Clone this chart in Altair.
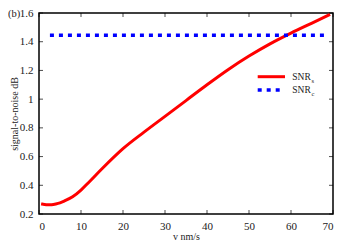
import altair as alt
import pandas as pd

# ---- data ----
v_values = [0.5, 1, 2, 3, 4, 5, 6, 8, 10, 12, 15, 20, 25, 30, 35, 40, 45, 50, 55, 60, 65, 69.3]
snr_s = [0.270, 0.268, 0.264, 0.265, 0.270, 0.278, 0.290, 0.320, 0.367, 0.425, 0.515, 0.655,
         0.770, 0.880, 0.990, 1.100, 1.205, 1.300, 1.385, 1.460, 1.530, 1.590]
snr_c_v = [2.6, 69.0]
snr_c = [1.445, 1.445]
x_ticks = [0, 10, 20, 30, 40, 50, 60, 70]
y_ticks = [0.2, 0.4, 0.6, 0.8, 1.0, 1.2, 1.4, 1.6]
legend_main = ["SNR", "SNR"]
legend_sub = ["s", "c"]
panel_label = "(b)"
x_title = "v nm/s"
y_title = "signal-to-noise dB"

FONT = "Liberation Serif"
W, H = 294, 201

xs = alt.Scale(domain=[0, 70], nice=False, zero=False)
ys = alt.Scale(domain=[0.2, 1.6], nice=False, zero=False)

x_axis = alt.Axis(
    values=x_ticks, tickSize=0, ticks=False, labelPadding=6, domain=False, grid=False,
    title=x_title, titleFont=FONT, titleFontSize=10, titleFontWeight="normal",
    titleColor="#222", titlePadding=0, labelFont=FONT, labelFontSize=11,
    labelColor="#222")
y_axis = alt.Axis(
    values=y_ticks, tickSize=0, ticks=False, labelPadding=6, domain=False, grid=False,
    format=".1~f", title=y_title, titleFont=FONT, titleFontSize=10,
    titleFontWeight="normal", titleColor="#222", titleX=-30, titleBaseline="top",
    labelFont=FONT, labelFontSize=11, labelColor="#222")

X = lambda: alt.X("x:Q", scale=xs, axis=x_axis, title=x_title)
Y = lambda: alt.Y("y:Q", scale=ys, axis=y_axis, title=y_title)

df_s = pd.DataFrame({"x": v_values, "y": snr_s})
df_c = pd.DataFrame({"x": snr_c_v, "y": snr_c})
df_xt = pd.DataFrame({"x": x_ticks})
df_yt = pd.DataFrame({"y": y_ticks})

red = alt.Chart(df_s).mark_line(color="#ff0000", strokeWidth=3, interpolate="monotone").encode(
    x=X(), y=Y())

blue = alt.Chart(df_c).mark_line(color="#0000ff", strokeWidth=3.3, strokeDash=[4, 5]).encode(
    x=X(), y=Y())

tick_bottom = alt.Chart(df_xt).mark_tick(color="black", size=4, thickness=1).encode(
    x=X(), y=alt.value(H - 2))
tick_top = alt.Chart(df_xt).mark_tick(color="black", size=4, thickness=1).encode(
    x=X(), y=alt.value(2))
tick_left = alt.Chart(df_yt).mark_tick(color="black", size=4, thickness=1).encode(
    y=Y(), x=alt.value(2))
tick_right = alt.Chart(df_yt).mark_tick(color="black", size=4, thickness=1).encode(
    y=Y(), x=alt.value(W - 2))

one = pd.DataFrame({"k": [0]})
leg_red = alt.Chart(one).mark_rule(color="#ff0000", strokeWidth=3).encode(
    x=alt.value(218.7), x2=alt.value(246), y=alt.value(63.7))
leg_blue = alt.Chart(one).mark_rule(color="#0000ff", strokeWidth=3.3, strokeDash=[4, 5]).encode(
    x=alt.value(218.7), x2=alt.value(242), y=alt.value(77))

leg_txt = []
for i, yy in enumerate([64, 77]):
    d = pd.DataFrame({"m": [legend_main[i]], "s": [legend_sub[i]]})
    leg_txt.append(alt.Chart(d).mark_text(font=FONT, fontSize=9.5, align="left",
                                          baseline="middle", color="#222").encode(
        text="m:N", x=alt.value(253.3), y=alt.value(yy)))
    leg_txt.append(alt.Chart(d).mark_text(font=FONT, fontSize=6.5, align="left",
                                          baseline="middle", color="#222").encode(
        text="s:N", x=alt.value(272.5), y=alt.value(yy + 4)))

lab = alt.Chart(pd.DataFrame({"t": [panel_label]})).mark_text(
    font=FONT, fontSize=10.5, align="left", baseline="top", color="#222").encode(
    text="t:N", x=alt.value(-31), y=alt.value(-4))

chart = alt.layer(red, blue, tick_bottom, tick_top, tick_left, tick_right,
                  leg_red, leg_blue, *leg_txt, lab).properties(
    width=W, height=H,
    autosize=alt.AutoSizeParams(type="none"),
    padding={"left": 31, "top": 5, "right": 9, "bottom": 31},
).configure_view(stroke="black", strokeWidth=1.5)

chart.save("out.html", embed_options={"renderer": "svg", "actions": False})
